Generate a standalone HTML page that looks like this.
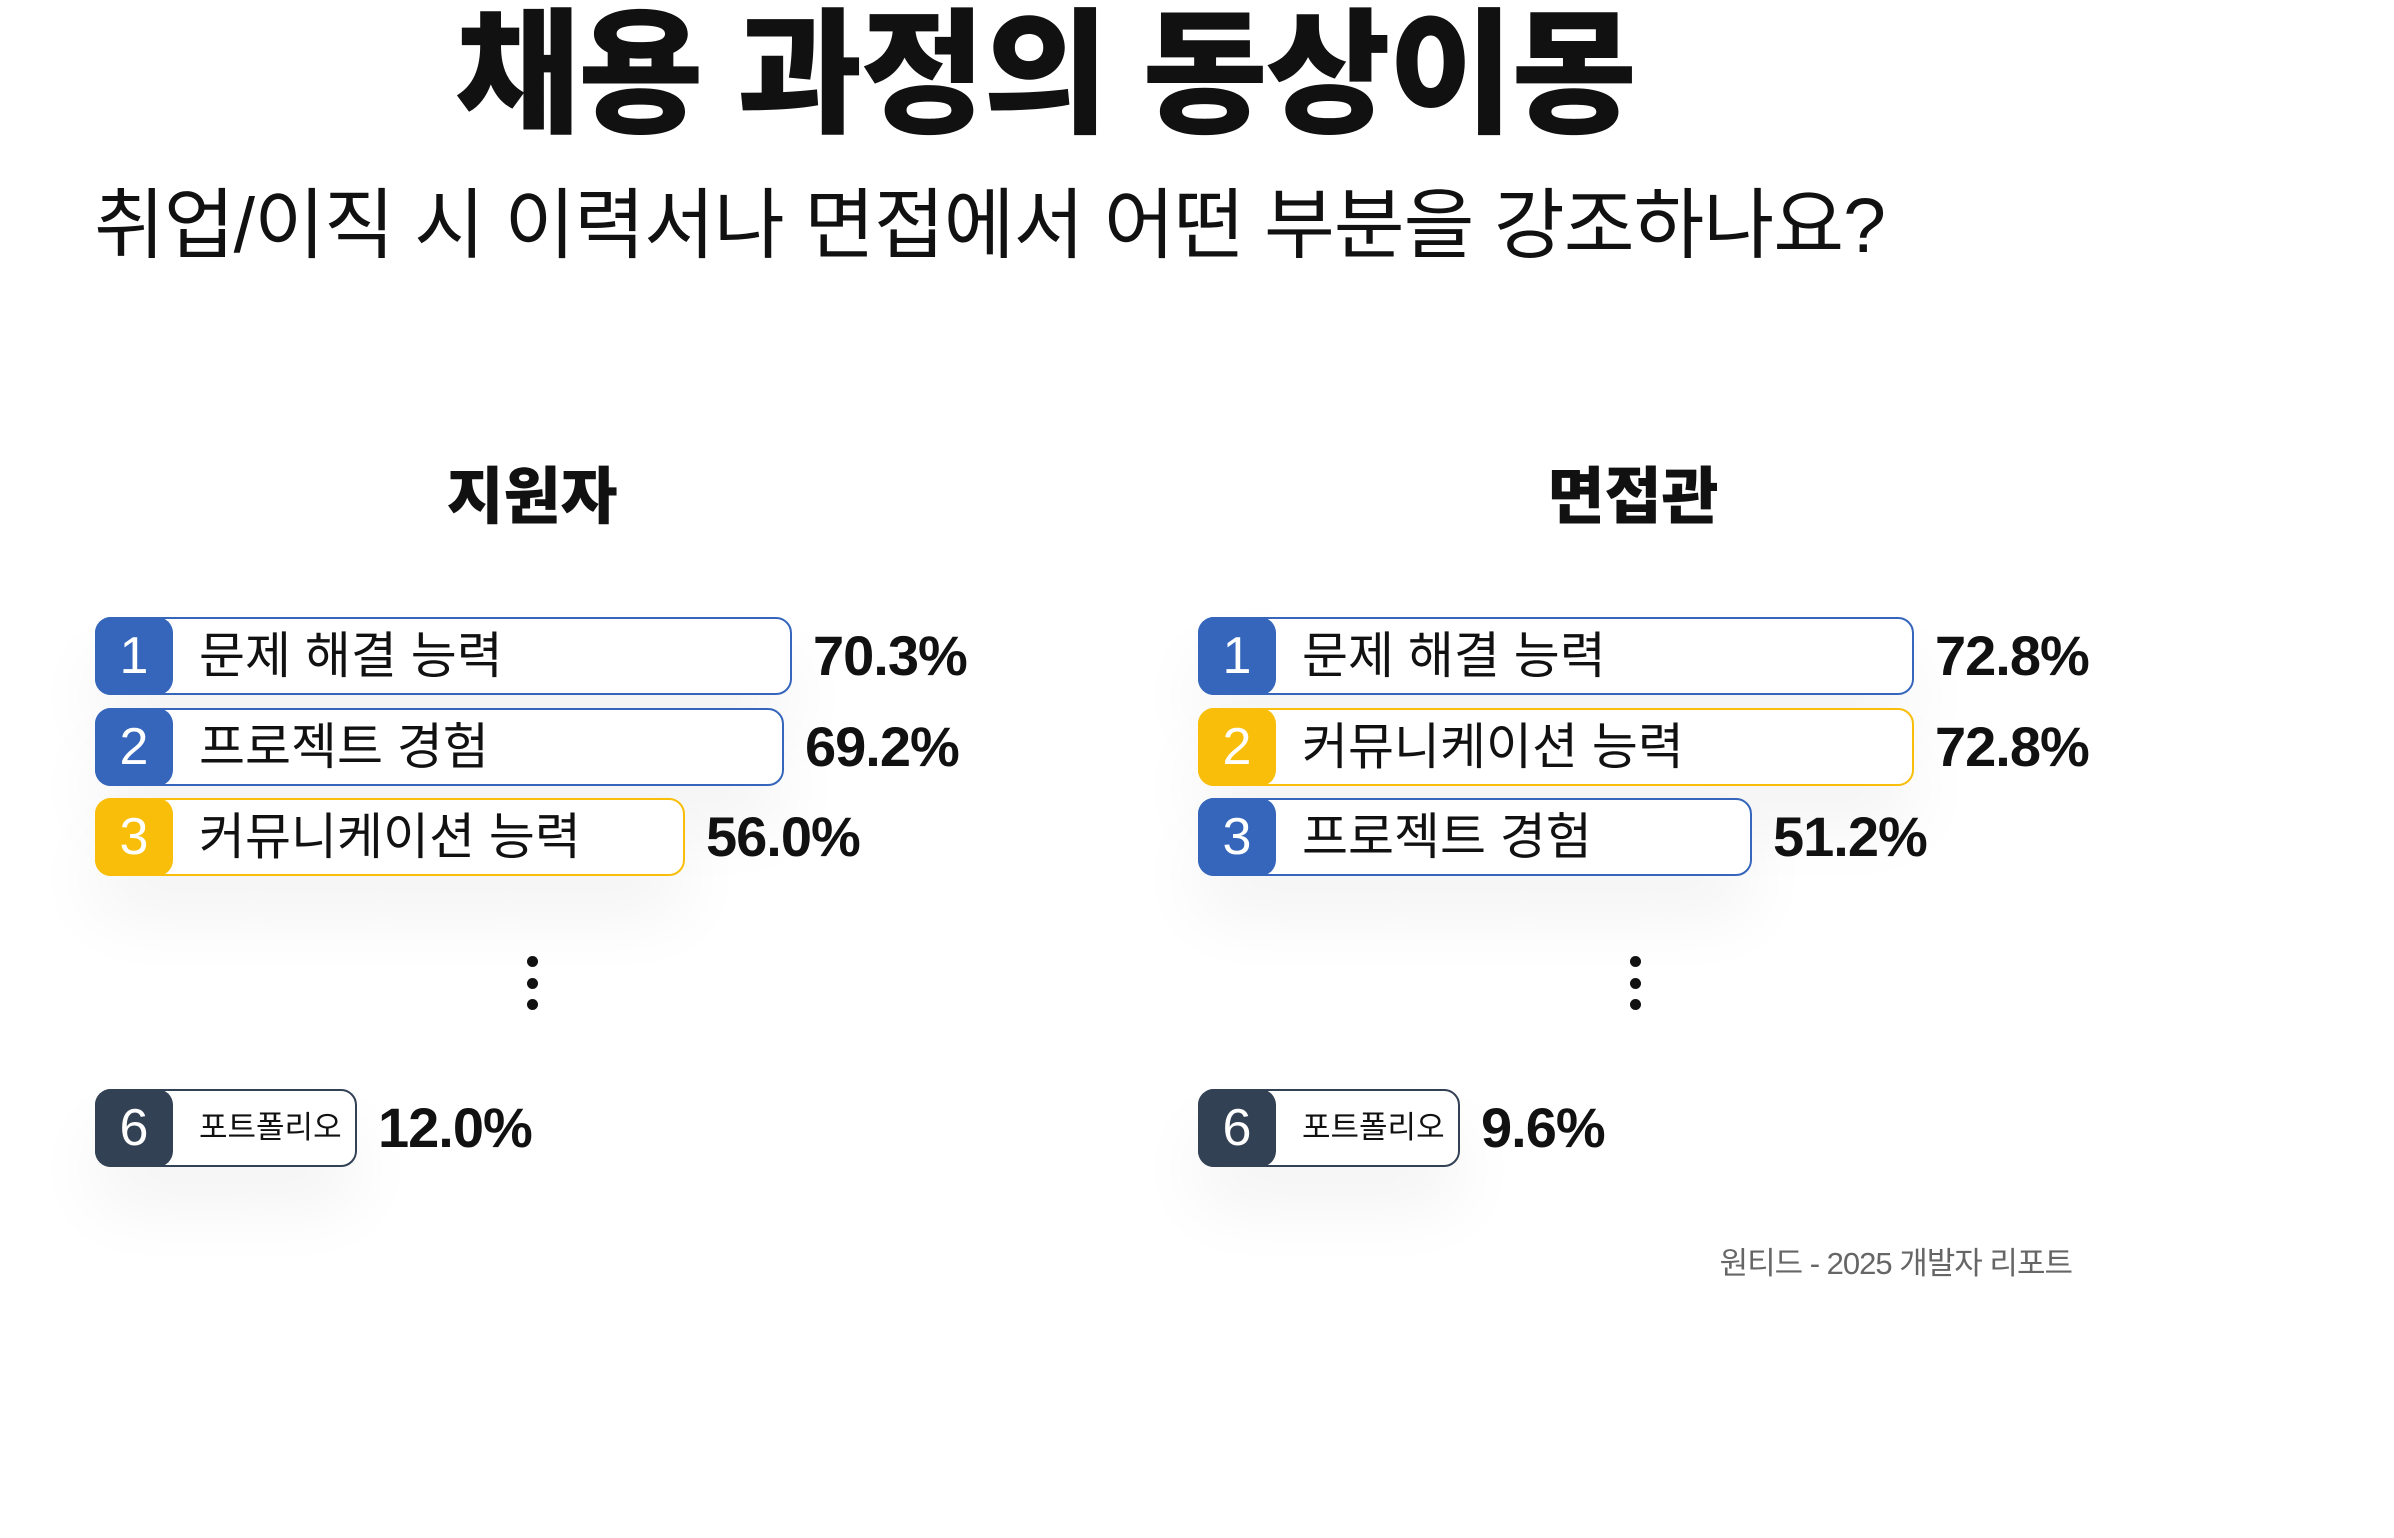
<!DOCTYPE html>
<html><head><meta charset="utf-8">
<style>
body{margin:0;width:2394px;height:1538px;background:#fff;position:relative;overflow:hidden;font-family:"Liberation Sans","Noto Sans CJK KR",sans-serif;color:#111}
.abs{position:absolute}
.title{left:0;width:2090px;top:0px;text-align:center;font-size:136px;font-weight:900;letter-spacing:-2px;line-height:150px}
.sub{left:94px;top:176px;font-size:77px;line-height:100px;letter-spacing:-1px}
.ptitle{font-size:62px;font-weight:900;text-align:center;width:400px;line-height:80px}
.bar{position:absolute;height:74px;border:2px solid;border-radius:16px;background:#fff;box-shadow:0 40px 70px rgba(0,0,0,0.05)}
.badge{position:absolute;left:-2px;top:-2px;width:78px;height:78px;border-radius:16px;color:#fff;font-size:52px;text-align:center;line-height:78px}
.lab{position:absolute;left:102px;top:0;line-height:74px;font-size:50px;white-space:nowrap}
.pct{position:absolute;font-size:56px;font-weight:bold;line-height:78px;letter-spacing:-1px}
.dot{position:absolute;width:11px;height:11px;border-radius:50%;background:#111}
</style></head><body>
<div class="abs title">채용 과정의 동상이몽</div>
<div class="abs sub">취업/이직 시 이력서나 면접에서 어떤 부분을 강조하나요?</div>
<div class="abs ptitle" style="left:332px;top:458px">지원자</div>
<div class="abs ptitle" style="left:1433px;top:458px">면접관</div>
<div class="abs" style="right:322px;top:1238px;font-size:31px;color:#666;letter-spacing:-1px">원티드 - 2025 개발자 리포트</div>
<div id="root"></div>
<script>
const leftRanks=[1,2,3,6];
const leftLabels=["문제 해결 능력","프로젝트 경험","커뮤니케이션 능력","포트폴리오"];
const leftValues=[70.3,69.2,56.0,12.0];
const leftColors=["blue","blue","yellow","dark"];
const rightRanks=[1,2,3,6];
const rightLabels=["문제 해결 능력","커뮤니케이션 능력","프로젝트 경험","포트폴리오"];
const rightValues=[72.8,72.8,51.2,9.6];
const rightColors=["blue","yellow","blue","dark"];
const pal={blue:"#3566BC",yellow:"#F9BE0A",dark:"#334155"};
const rowTops=[617,708,798,1089];
function w(v){return Math.max(262,Math.round(170+7.5*v));}
const root=document.getElementById('root');
function panel(x0,ranks,labels,values,colors,side){
  ranks.forEach((r,i)=>{
    const b=document.createElement('div');
    b.className='bar';
    
    
    b.style.left=x0+'px';b.style.top=rowTops[i]+'px';b.style.width=(w(values[i])-4)+'px';
    b.style.borderColor=pal[colors[i]];
    const bd=document.createElement('div');
    bd.className='badge';
    
    
    bd.style.background=pal[colors[i]];bd.textContent=r;
    const lb=document.createElement('div');
    lb.className='lab';
    
    
    lb.textContent=labels[i];
    if(r===6){lb.style.fontSize='31px';}
    b.appendChild(bd);b.appendChild(lb);root.appendChild(b);
    const p=document.createElement('div');
    p.className='pct';
    
    
    p.style.left=(x0+w(values[i])+21)+'px';p.style.top=rowTops[i]+'px';
    p.textContent=values[i].toFixed(1)+'%';
    root.appendChild(p);
  });
  [961,983,1004].forEach(y=>{
    const d=document.createElement('div');
    d.className='dot';
    
    
    d.style.left=(x0+432)+'px';d.style.top=(y-5)+'px';
    root.appendChild(d);
  });
}
panel(95,leftRanks,leftLabels,leftValues,leftColors,'applicant');
panel(1198,rightRanks,rightLabels,rightValues,rightColors,'interviewer');
</script>
</body></html>
